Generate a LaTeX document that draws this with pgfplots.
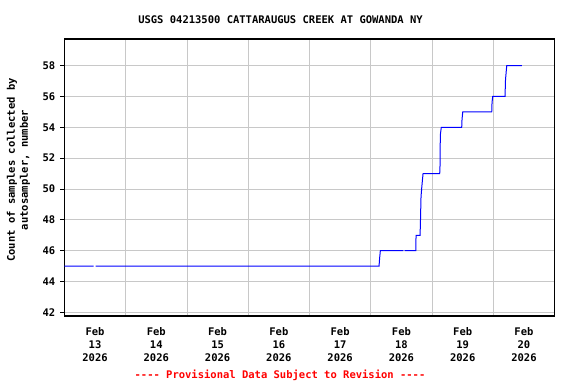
\documentclass[border=0pt]{standalone}
\usepackage{fontspec}
\setmainfont{DejaVu Sans Mono}
\usepackage{pgfplots}
\pgfplotsset{compat=1.18}
\definecolor{gridgray}{RGB}{200,200,200}
\begin{document}
\fontsize{10.5bp}{13bp}\selectfont\bfseries
\begin{tikzpicture}
\begin{axis}[
  name=ax,
  scale only axis,
  width=490.2bp, height=277bp,
  xmin=0, xmax=8,
  ymin=41.77, ymax=59.72,
  xtick={0.5,1.5,2.5,3.5,4.5,5.5,6.5,7.5},
  xticklabels={{Feb\\13\\2026},{Feb\\14\\2026},{Feb\\15\\2026},{Feb\\16\\2026},{Feb\\17\\2026},{Feb\\18\\2026},{Feb\\19\\2026},{Feb\\20\\2026}},
  xticklabel style={align=center, font=\fontsize{10.5bp}{13bp}\selectfont\bfseries, inner sep=0pt, yshift=-7bp},
  minor xtick={1,2,3,4,5,6,7},
  xminorgrids,
  ytick={42,44,46,48,50,52,54,56,58},
  ytick pos=left,
  ymajorgrids,
  yticklabel style={font=\fontsize{10.5bp}{13bp}\selectfont\bfseries, inner sep=0pt, xshift=-5bp},
  /pgf/number format/assume math mode=true,
  x tick style={draw=none},
  minor x tick style={draw=none},
  y tick style={black, line width=0.8bp},
  tick align=outside,
  major tick length=4bp,
  grid style={gridgray, line width=0.9bp},
  minor grid style={gridgray, line width=0.9bp},
  axis line style={black, line width=1.3bp},
  unbounded coords=jump,
  clip=true,
]
\addplot[blue, line width=1bp] coordinates {
(-0.05,45) (0.478,45) (0.49,nan) (0.511,45)
(5.135,45) (5.144,45.5) (5.156,46)
(5.531,46) (5.54,nan) (5.554,46)
(5.734,46) (5.739,47) (5.804,47) (5.809,47.6) (5.820,49.5) (5.832,50.1) (5.853,51)
(6.125,51) (6.130,51.5) (6.135,53.5) (6.151,54)
(6.484,54) (6.489,54.5) (6.501,55)
(6.974,55) (6.979,55.6) (6.990,56)
(7.191,56) (7.199,57.1) (7.219,58)
(7.464,58)
};
\end{axis}
\node[anchor=center] at ([shift={(216.1bp,296.5bp)}]ax.south west) {USGS 04213500 CATTARAUGUS CREEK AT GOWANDA NY};
\node[anchor=center, text=red] at ([shift={(215.6bp,-59bp)}]ax.south west) {{-}{-}{-}{-} Provisional Data Subject to Revision {-}{-}{-}{-}};
\node[anchor=center, rotate=90, align=center] at ([shift={(-46bp,146bp)}]ax.south west) {Count of samples collected by\\autosampler, number};
\pgfresetboundingbox
\path ([shift={(-64.4bp,-68bp)}]ax.south west) rectangle ([shift={(21.4bp,39bp)}]ax.north east);
\end{tikzpicture}
\end{document}
